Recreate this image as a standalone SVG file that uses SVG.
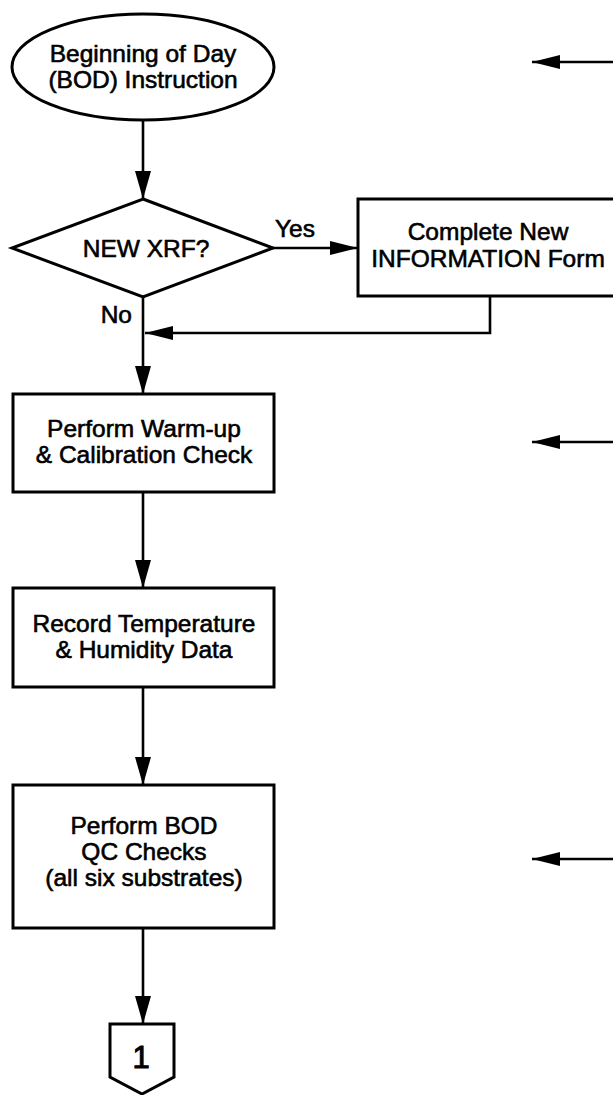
<svg xmlns="http://www.w3.org/2000/svg" width="613" height="1095" viewBox="0 0 613 1095">
<style>
  .shape { fill: #ffffff; stroke: #000000; stroke-width: 3; }
  .conn { fill: none; stroke: #000000; stroke-width: 2.6; }
  .label { font-family: "Liberation Sans", Arial, sans-serif; font-size: 24.5px; fill: #000000; stroke: #000000; stroke-width: 0.6; text-anchor: middle; }
  .free { font-family: "Liberation Sans", Arial, sans-serif; font-size: 24.5px; fill: #000000; stroke: #000000; stroke-width: 0.6; }
</style>
<defs>
  <marker id="arrow" viewBox="0 0 28 16" refX="28" refY="8" markerWidth="28" markerHeight="16" markerUnits="userSpaceOnUse" orient="auto">
    <path d="M0,0 L28,8 L0,16 Z" fill="#000000"/>
  </marker>
  <marker id="arrowSmall" viewBox="0 0 28 14" refX="28" refY="7" markerWidth="28" markerHeight="14" markerUnits="userSpaceOnUse" orient="auto">
    <path d="M0,0 L28,7 L0,14 Z" fill="#000000"/>
  </marker>
</defs>
<rect x="0" y="0" width="613" height="1095" fill="#ffffff"/>

<g id="connectors">
  <line class="conn" x1="143" y1="120" x2="143" y2="199" marker-end="url(#arrow)"/>
  <line class="conn" x1="273" y1="248" x2="358" y2="248" marker-end="url(#arrowSmall)"/>
  <line class="conn" x1="143" y1="297" x2="143" y2="394" marker-end="url(#arrow)"/>
  <polyline class="conn" points="490,296 490,333 145,333" marker-end="url(#arrowSmall)"/>
  <line class="conn" x1="143" y1="492" x2="143" y2="588" marker-end="url(#arrow)"/>
  <line class="conn" x1="143" y1="687" x2="143" y2="785" marker-end="url(#arrow)"/>
  <line class="conn" x1="143" y1="928" x2="143" y2="1024" marker-end="url(#arrow)"/>
  <line class="conn" x1="615" y1="62" x2="532" y2="62" marker-end="url(#arrowSmall)"/>
  <line class="conn" x1="615" y1="442" x2="532" y2="442" marker-end="url(#arrowSmall)"/>
  <line class="conn" x1="615" y1="859" x2="532" y2="859" marker-end="url(#arrowSmall)"/>
  <text class="free" x="275" y="237">Yes</text>
  <text class="free" x="132" y="323" text-anchor="end">No</text>
</g>

<g id="bod-start">
  <ellipse class="shape" cx="143" cy="67" rx="131" ry="53"/>
  <text class="label" x="143" y="62">Beginning of Day</text>
  <text class="label" x="143" y="88">(BOD) Instruction</text>
</g>

<g id="new-xrf">
  <polygon class="shape" points="143,199 273,248 143,297 12,248"/>
  <text class="label" x="146" y="257">NEW XRF?</text>
</g>

<g id="info-form">
  <rect class="shape" x="358" y="199" width="262" height="97"/>
  <text class="label" x="488" y="240">Complete New</text>
  <text class="label" x="488" y="267">INFORMATION Form</text>
</g>

<g id="warmup">
  <rect class="shape" x="13" y="394" width="261" height="98"/>
  <text class="label" x="144" y="437">Perform Warm-up</text>
  <text class="label" x="144" y="463">&amp; Calibration Check</text>
</g>

<g id="temperature">
  <rect class="shape" x="13" y="588" width="261" height="99"/>
  <text class="label" x="144" y="632">Record Temperature</text>
  <text class="label" x="144" y="658">&amp; Humidity Data</text>
</g>

<g id="qc-checks">
  <rect class="shape" x="13" y="785" width="261" height="143"/>
  <text class="label" x="144" y="834">Perform BOD</text>
  <text class="label" x="144" y="860">QC Checks</text>
  <text class="label" x="144" y="886">(all six substrates)</text>
</g>

<g id="connector-1">
  <polygon class="shape" points="110,1024 174,1024 174,1077 142,1094 110,1077"/>
  <text class="label" x="141" y="1068" style="font-size:31px; stroke-width:1">1</text>
</g>
</svg>
